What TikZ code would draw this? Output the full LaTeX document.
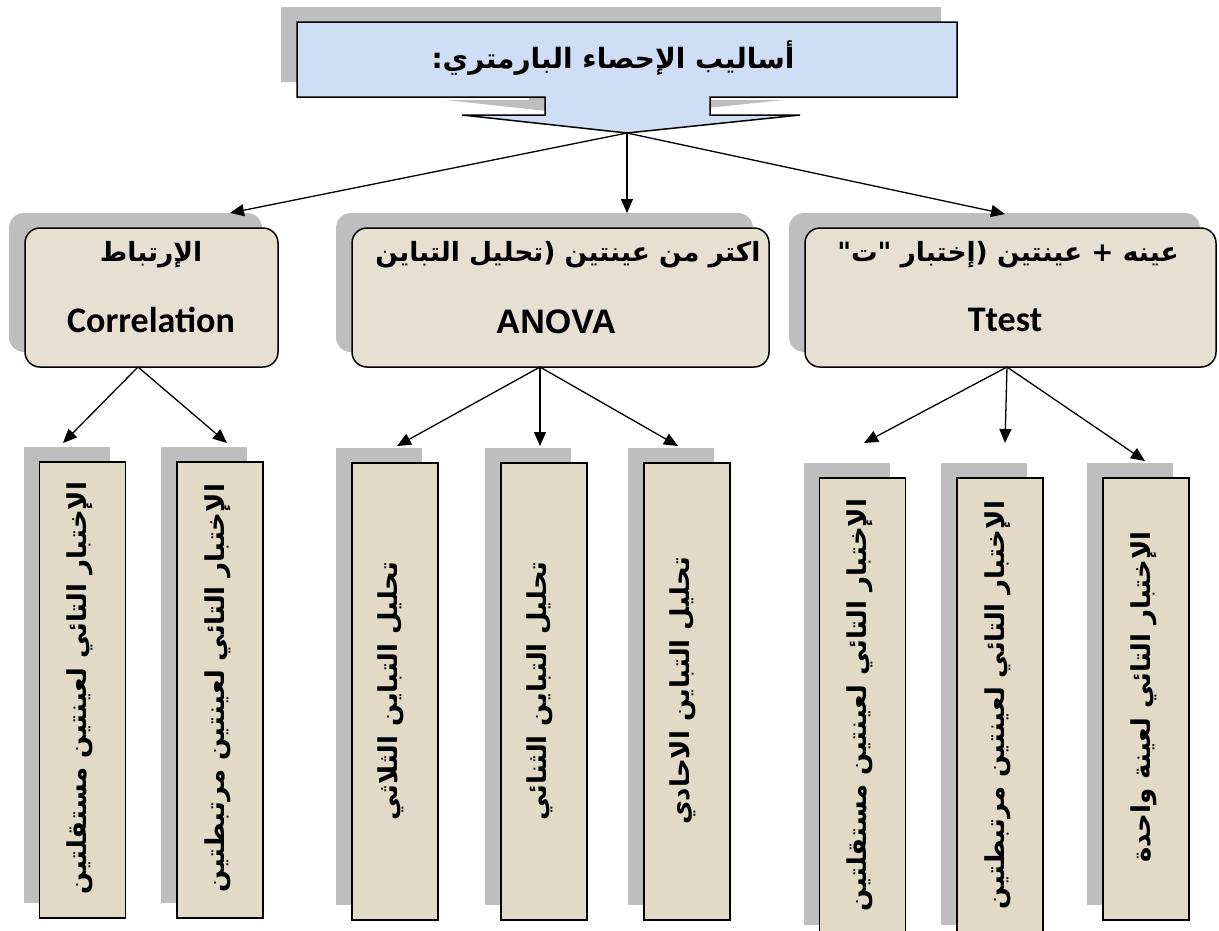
\documentclass[tikz,border=0pt]{standalone}
\usepackage{fontspec}
\usetikzlibrary{arrows.meta,shadows}
\TeXXeTstate=1
\newfontfamily\arabicfont[Script=Arabic]{DejaVu Sans}
\newfontfamily\calibrifont{Carlito}
\newfontfamily\arialfont{Liberation Sans}
\definecolor{shadowgray}{RGB}{190,190,190}
\definecolor{titlefill}{RGB}{208,222,245}
\definecolor{boxbeige}{RGB}{230,223,210}
\definecolor{stripbeige}{RGB}{226,217,199}
\begin{document}
\begin{tikzpicture}[x=1pt,y=-1pt,
  shadowed/.style={general shadow={fill=shadowgray, shadow xshift=-16pt, shadow yshift=15pt}},
  catbox/.style={shadowed, draw=black, line width=1.5pt, fill=boxbeige, rounded corners=15pt, inner sep=0pt, minimum height=139pt},
  stripbox/.style={shadowed, draw=black, line width=1.5pt, fill=stripbeige, inner sep=0pt, minimum width=86pt},
  artext/.style={font=\arabicfont\bfseries\fontsize{26.5}{32}\selectfont, inner sep=0pt},
  latext/.style={font=\calibrifont\bfseries\fontsize{36}{42}\selectfont, inner sep=0pt},
  striptext/.style={rotate=90, font=\arabicfont\bfseries\fontsize{26}{30}\selectfont, inner sep=0pt},
  arr/.style={-{Triangle[length=14pt,width=12pt]}, line width=1.3pt},
]
\useasboundingbox (0,0) rectangle (1219,930);
\fill[white] (0,0) rectangle (1219,930);

% title callout
\fill[shadowgray, shift={(-16,-15)}] (297,22) -- (957,22) -- (957,97) -- (710,97) -- (710,115) -- (800,115) -- (627,133) -- (462,115) -- (545,115) -- (545,97) -- (297,97) -- cycle;
\draw[fill=titlefill, line width=1.5pt] (297,22) -- (957,22) -- (957,97) -- (710,97) -- (710,115) -- (800,115) -- (627,133) -- (462,115) -- (545,115) -- (545,97) -- (297,97) -- cycle;
\node[artext, font=\arabicfont\bfseries\fontsize{28}{34}\selectfont] (title) at (613,58) {\beginR أساليب الإحصاء البارمتري:\endR};
\coordinate (tip) at (627,133);

% level 2
\node[catbox, minimum width=253pt] (corr) at (151.5,297.5) {};
\node[catbox, minimum width=417pt] (anova) at (560.5,297.5) {};
\node[catbox, minimum width=411pt] (ttest) at (1010.5,297.5) {};

\node[artext] (corrAr) at (151,255) {\beginR الإرتباط\endR};
\node[latext] (corrLa) at (151,320) {Correlation};
\node[artext] (anovaAr) at (568,255) {\beginR اكتر من عينتين (تحليل التباين\endR};
\node[latext, font=\arialfont\bfseries\fontsize{34}{40}\selectfont] (anovaLa) at (556,322) {ANOVA};
\node[artext] (ttestAr) at (1008,255) {\beginR عينه + عينتين (إختبار "ت"\endR};
\node[latext] (ttestLa) at (1005,320) {Ttest};

\coordinate (corrIn) at (230,213);
\coordinate (anovaIn) at (627,213);
\coordinate (ttestIn) at (1005,214);
\draw[arr] (tip) -- (corrIn);
\draw[arr] (tip) -- (anovaIn);
\draw[arr] (tip) -- (ttestIn);

% level 3 boxes
\node[stripbox, minimum height=456pt] (l1) at (82.5,690) {};
\node[stripbox, minimum height=456pt] (l2) at (220,690) {};
\node[stripbox, minimum height=457pt] (m1) at (395,691.5) {};
\node[stripbox, minimum height=457pt] (m2) at (544,691.5) {};
\node[stripbox, minimum height=457pt] (m3) at (687,691.5) {};
\node[stripbox, minimum height=462pt] (r1) at (862.5,709) {};
\node[stripbox, minimum height=462pt] (r2) at (1000,709) {};
\node[stripbox, minimum height=442pt] (r3) at (1146,699) {};

\node[striptext] (l1t) at (80,688) {\beginR الإختبار التائي لعينتين مستقلتين\endR};
\node[striptext] (l2t) at (218,688) {\beginR الإختبار التائي لعينتين مرتبطتين\endR};
\node[striptext] (m1t) at (391,691) {\beginR تحليل التباين الثلاثي\endR};
\node[striptext] (m2t) at (540,691) {\beginR تحليل التباين الثنائي\endR};
\node[striptext] (m3t) at (683,691) {\beginR تحليل التباين الاحادي\endR};
\node[striptext] (r1t) at (860,705) {\beginR الإختبار التائي لعينتين مستقلتين\endR};
\node[striptext] (r2t) at (998,705) {\beginR الإختبار التائي لعينتين مرتبطتين\endR};
\node[striptext] (r3t) at (1144,697) {\beginR الإختبار التائي لعينة واحدة\endR};

% level 3 arrows
\coordinate (corrOut) at (138,367);
\coordinate (anovaOut) at (540,367);
\coordinate (ttestOut) at (1007,367);
\coordinate (l1In) at (63,443);
\coordinate (l2In) at (227,443);
\coordinate (m1In) at (397,446);
\coordinate (m2In) at (540,446);
\coordinate (m3In) at (678,446);
\coordinate (r1In) at (864,443);
\coordinate (r2In) at (1005,443);
\coordinate (r3In) at (1145,461);
\draw[arr] (corrOut) -- (l1In);
\draw[arr] (corrOut) -- (l2In);
\draw[arr] (anovaOut) -- (m1In);
\draw[arr] (anovaOut) -- (m2In);
\draw[arr] (anovaOut) -- (m3In);
\draw[arr] (ttestOut) -- (r1In);
\draw[arr] (ttestOut) -- (r2In);
\draw[arr] (ttestOut) -- (r3In);
\end{tikzpicture}
\end{document}
